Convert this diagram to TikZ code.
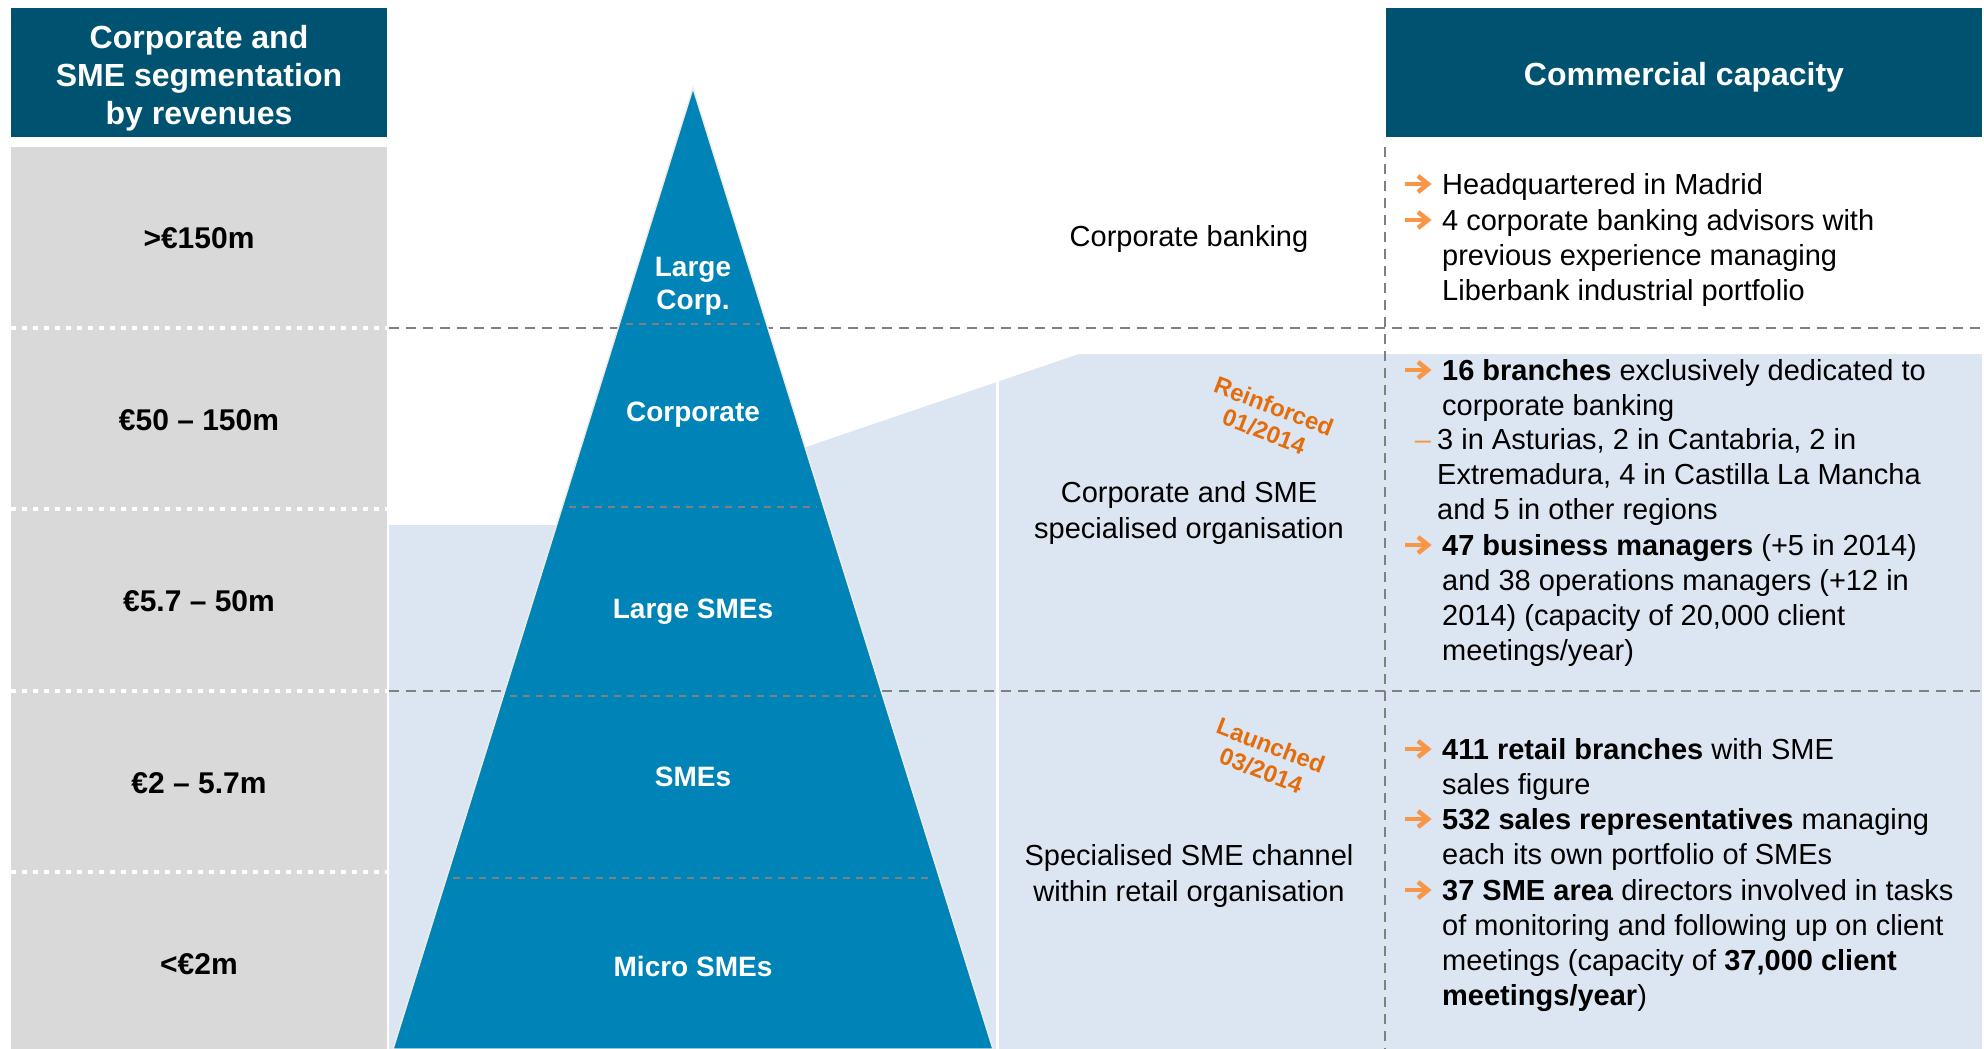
\documentclass[tikz,border=0pt]{standalone}
\usepackage{fontspec}
\setmainfont{Liberation Sans}
\usetikzlibrary{positioning}

\definecolor{hdrblue}{RGB}{0,83,112}
\definecolor{pyrblue}{RGB}{0,131,182}
\definecolor{pyredge}{RGB}{238,236,225}
\definecolor{bandgrey}{RGB}{217,217,217}
\definecolor{paleblue}{RGB}{220,230,242}
\definecolor{rulegrey}{RGB}{128,128,128}
\definecolor{stamporange}{RGB}{228,108,10}
\definecolor{tickorange}{RGB}{247,150,70}

\begin{document}
\begin{tikzpicture}[x=1pt, y=-1pt,
			base/.style={inner sep=0pt, font=\fontsize{29}{35.2}\selectfont},
			header/.style={base, fill=hdrblue, minimum height=129pt},
			headtext/.style={base, text=white, align=center, font=\bfseries\fontsize{32}{38}\selectfont},
			band/.style={base, font=\bfseries\fontsize{30}{34}\selectfont},
			tier/.style={base, text=white, align=center, font=\bfseries\fontsize{28}{33}\selectfont},
			channel/.style={base, align=center},
			stamp/.style={base, text=stamporange, align=center, rotate=-21, font=\bfseries\fontsize{24}{27}\selectfont},
			point/.style={base, align=left, anchor=base west},
			rule/.style={draw=rulegrey, line width=2.5pt, dash pattern=on 10pt off 7pt},
			tierrule/.style={draw=rulegrey, line width=1.8pt, dash pattern=on 7pt off 6pt},
			tickarrow/.pic={
				\draw[tickorange, line width=4.5pt] (-13,0) -- (8,0);
				\draw[tickorange, line width=4.5pt, line join=miter] (0,-8) -- (10,0) -- (0,8);
			},
		]
		\useasboundingbox (0,0) rectangle (1984,1049);

		\fill[bandgrey] (11,147) rectangle (387,1049);
		\foreach \y in {328,509,691,872}
			\draw[white, line width=4pt, dash pattern=on 5pt off 6pt] (11,\y) -- (387,\y);

		\fill[paleblue] (389,525) -- (700,525) -- (806,447) -- (1079,354) -- (1982,354) -- (1982,1049) -- (389,1049) -- cycle;
		\draw[white, line width=3pt] (997,380) -- (997,1049);

		\draw[rule] (389,328) -- (1982,328);
		\draw[rule] (389,691) -- (1982,691);
		\draw[rule] (1385,147) -- (1385,1049);

		\fill[pyrblue, draw=pyredge, line width=1.5pt] (693,88) -- (993,1049) -- (393,1049) -- cycle;
		\foreach \y in {324,507,696,878}{
			\pgfmathsetmacro{\hw}{0.3122*(\y-88)-7}
			\draw[tierrule] (693-\hw,\y) -- (693+\hw,\y);
		}

		\node[header, minimum width=376pt] (segment) at (199,72.5) {};
		\node[headtext] (segmentlabel) at ([yshift=-6pt]segment.center) {Corporate and\\SME segmentation\\by revenues};
		\node[header, minimum width=596pt] (capacity) at (1684,72.5) {};
		\node[headtext] (capacitylabel) at ([yshift=-5pt]capacity.center) {Commercial capacity};

		\node[band] (over150) at (199,238) {>€150m};
		\node[band] (to150) at (199,420) {€50 – 150m};
		\node[band] (to50) at (199,601) {€5.7 – 50m};
		\node[band] (to57) at (199,783) {€2 – 5.7m};
		\node[band] (under2) at (199,964) {<€2m};

		\node[tier] (largecorp) at (693,286) {Large\\Corp.};
		\node[tier] (corporate) at (693,415) {Corporate};
		\node[tier] (largesme) at (693,612) {Large SMEs};
		\node[tier] (sme) at (693,777) {SMEs};
		\node[tier] (microsme) at (693,966) {Micro SMEs};

		\node[channel] (corpbank) at (1189,239) {Corporate banking};
		\node[channel] (corporg) at (1189,513) {Corporate and SME\\specialised organisation};
		\node[channel] (smechan) at (1189,876) {Specialised SME channel\\within retail organisation};
		\node[stamp] (reinforced) at (1269,419) {Reinforced\\01/2014};
		\node[stamp] (launched) at (1266,758) {Launched\\03/2014};

		\foreach \y in {194,230,380,555,759,829,900}
			\pic at (1418,\y-10) {tickarrow};

		\node[point] (p1) at (1442,194) {Headquartered in Madrid};
		\node[point] (p2) at (1442,300.4) {4 corporate banking advisors with\\previous experience managing\\Liberbank industrial portfolio};

		\node[point] (p3) at (1442,415.2) {\textbf{16 branches} exclusively dedicated to\\corporate banking};
		\node[base, anchor=base, text=tickorange] (dash4) at (1423,449) {–};
		\node[point] (p4) at (1437,519.4) {3 in Asturias, 2 in Cantabria, 2 in\\Extremadura, 4 in Castilla La Mancha\\and 5 in other regions};
		\node[point] (p5) at (1442,660.6) {\textbf{47 business managers} (+5 in 2014)\\and 38 operations managers (+12 in\\2014) (capacity of 20,000 client\\meetings/year)};

		\node[point] (p6) at (1442,794.2) {\textbf{411 retail branches} with SME\\sales figure};
		\node[point] (p7) at (1442,864.2) {\textbf{532 sales representatives} managing\\each its own portfolio of SMEs};
		\node[point] (p8) at (1442,1005.6) {\textbf{37 SME area} directors involved in tasks\\of monitoring and following up on client\\meetings (capacity of \textbf{37,000 client}\\\textbf{meetings/year})};

\end{tikzpicture}
\end{document}
